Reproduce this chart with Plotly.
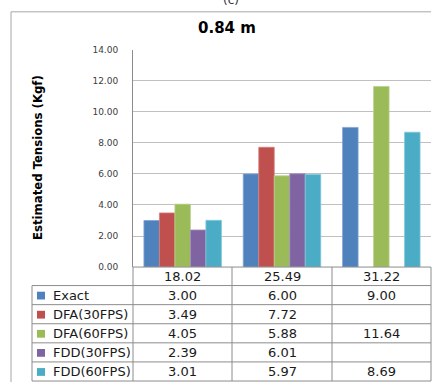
import plotly.graph_objects as go

W, H = 439, 387

title = "0.84 m"
y_title = "Estimated Tensions (Kgf)"
categories = ["18.02", "25.49", "31.22"]
series_names = ["Exact", "DFA(30FPS)", "DFA(60FPS)", "FDD(30FPS)", "FDD(60FPS)"]
exact = [3.00, 6.00, 9.00]
dfa30 = [3.49, 7.72, None]
dfa60 = [4.05, 5.88, 11.64]
fdd30 = [2.39, 6.01, None]
fdd60 = [3.01, 5.97, 8.69]
series_values = [exact, dfa30, dfa60, fdd30, fdd60]
colors = ["#4F81BD", "#C0504D", "#9BBB59", "#8064A2", "#4BACC6"]
edge_colors = ["#7FA3D1", "#D68280", "#B9D18A", "#A690BF", "#80C6D9"]


def px(x):
    return x / W


def py(y):
    return 1 - y / H


# geometry (pixels)
PL, PR, PT, PB = 133, 431, 46, 269
LEG_L = 32
ROW_TOP = 269
HEADER_B = 288
ROW_H = (386 - 288) / 5
col_edges = [133, 232, 332, 431]

fig = go.Figure()
for name, vals, c, ec in zip(series_names, series_values, colors, edge_colors):
    fig.add_trace(go.Bar(
        x=categories, y=vals, name=name,
        marker=dict(color=c, line=dict(color=ec, width=0.8)),
        showlegend=False,
    ))

shapes = []
annotations = []
line_col = "#8c8c8c"

# outer frame
shapes.append(dict(type="line", xref="paper", yref="paper", x0=px(11), x1=px(431), y0=py(7), y1=py(7),
                   line=dict(color="#a6a6a6", width=1)))
shapes.append(dict(type="line", xref="paper", yref="paper", x0=px(11), x1=px(11), y0=py(7), y1=py(387),
                   line=dict(color="#a6a6a6", width=1)))

# table horizontal lines
shapes.append(dict(type="line", xref="paper", yref="paper", x0=px(PL), x1=px(PR), y0=py(ROW_TOP), y1=py(ROW_TOP),
                   line=dict(color=line_col, width=1)))
for i in range(6):
    yy = HEADER_B + i * ROW_H
    shapes.append(dict(type="line", xref="paper", yref="paper", x0=px(LEG_L), x1=px(PR), y0=py(yy), y1=py(yy),
                       line=dict(color=line_col, width=1)))
# vertical lines
shapes.append(dict(type="line", xref="paper", yref="paper", x0=px(LEG_L), x1=px(LEG_L), y0=py(HEADER_B), y1=py(386),
                   line=dict(color=line_col, width=1)))
for xe in col_edges:
    shapes.append(dict(type="line", xref="paper", yref="paper", x0=px(xe), x1=px(xe), y0=py(ROW_TOP), y1=py(386),
                       line=dict(color=line_col, width=1)))

font_tab = dict(family="DejaVu Sans", size=13, color="#1a1a1a")

# header categories
for j, cat in enumerate(categories):
    xc = (col_edges[j] + col_edges[j + 1]) / 2
    annotations.append(dict(x=px(xc), y=py((ROW_TOP + HEADER_B) / 2 + 0.5), xref="paper", yref="paper",
                            text=cat, showarrow=False, font=font_tab, xanchor="center", yanchor="middle"))

# rows
for i, (name, vals, c) in enumerate(zip(series_names, series_values, colors)):
    yc = HEADER_B + (i + 0.5) * ROW_H
    shapes.append(dict(type="rect", xref="paper", yref="paper", x0=px(37), x1=px(45),
                       y0=py(yc - 3.5), y1=py(yc + 4.5), fillcolor=c, line=dict(width=0)))
    annotations.append(dict(x=px(51), y=py(yc + 0.5), xref="paper", yref="paper", text=name, showarrow=False,
                            font=font_tab, xanchor="left", yanchor="middle"))
    for j, v in enumerate(vals):
        if v is None:
            continue
        xc = (col_edges[j] + col_edges[j + 1]) / 2
        annotations.append(dict(x=px(xc), y=py(yc + 0.5), xref="paper", yref="paper", text=f"{v:.2f}",
                                showarrow=False, font=font_tab, xanchor="center", yanchor="middle"))

# title
annotations.append(dict(x=px(227), y=py(24), xref="paper", yref="paper", text=f"<b>{title}</b>",
                        showarrow=False, font=dict(family="DejaVu Sans", size=15, color="#000000"),
                        xanchor="center", yanchor="middle"))
# y title
annotations.append(dict(x=px(38), y=py(157), xref="paper", yref="paper", text=f"<b>{y_title}</b>",
                        showarrow=False, textangle=-90,
                        font=dict(family="Liberation Sans Narrow, DejaVu Sans Condensed, DejaVu Sans", size=13,
                                  color="#000000"),
                        xanchor="center", yanchor="middle"))
# partial caption at very top (cut off in the reference)
annotations.append(dict(x=px(231), y=py(4), xref="paper", yref="paper", text="(c)", showarrow=False,
                        font=dict(family="DejaVu Sans", size=12, color="#333333"), xanchor="center",
                        yanchor="bottom"))

fig.update_layout(
    width=W, height=H,
    margin=dict(l=0, r=0, t=0, b=0),
    paper_bgcolor="white", plot_bgcolor="white",
    barmode="group", bargap=0.22, bargroupgap=0,
    shapes=shapes, annotations=annotations,
    xaxis=dict(domain=[px(PL), px(PR)], showticklabels=False, showgrid=False, zeroline=False,
               showline=False, ticks=""),
    yaxis=dict(domain=[py(PB), py(PT)], range=[0, 14], dtick=2, tickformat=".2f",
               showgrid=True, gridcolor="#c0c0c0", gridwidth=1, zeroline=False,
               showline=True, linecolor="#8c8c8c", linewidth=1,
               ticks="", ticklabelstandoff=12,
               tickfont=dict(family="DejaVu Sans", size=9, color="#404040")),
)

fig.write_html("out.html", config={"displayModeBar": False},
               post_script="document.body.style.margin='0';document.body.style.overflow='hidden';")
